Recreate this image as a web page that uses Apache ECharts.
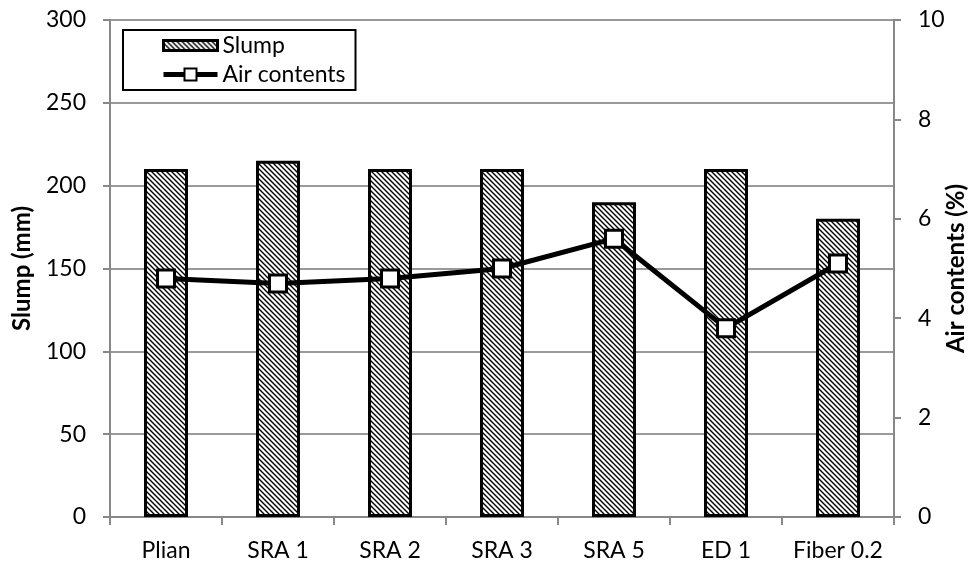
<!DOCTYPE html>
<html>
<head>
<meta charset="utf-8">
<script src="https://cdn.jsdelivr.net/npm/echarts@6/dist/echarts.min.js"></script>
<style>
  html, body { margin: 0; padding: 0; background: #fff; }
  #chart { width: 969px; height: 567px; }
</style>
</head>
<body>
<div id="chart"></div>
<script>
// Mix names and measured properties
const categories = ['Plian', 'SRA 1', 'SRA 2', 'SRA 3', 'SRA 5', 'ED 1', 'Fiber 0.2'];
const slump = [210, 215, 210, 210, 190, 210, 180];          // mm
const airContents = [4.8, 4.7, 4.8, 5.0, 5.6, 3.8, 5.1];    // %

// Diagonal hatch fill for the slump bars
function hatch() {
  const s = 5;
  const c = document.createElement('canvas');
  c.width = s; c.height = s;
  const g = c.getContext('2d');
  g.fillStyle = '#fff';
  g.fillRect(0, 0, s, s);
  g.strokeStyle = '#000';
  g.lineWidth = 1.4;
  g.beginPath();
  g.moveTo(-1, -1); g.lineTo(s + 1, s + 1);
  g.moveTo(-1, s - 1); g.lineTo(1, s + 1);
  g.moveTo(s - 1, -1); g.lineTo(s + 1, 1);
  g.stroke();
  return c;
}
const hatchFill = { image: hatch(), repeat: 'repeat' };

const font = 'Lato, "Open Sans", sans-serif';
const axisGray = '#888';
const chart = echarts.init(document.getElementById('chart'), null, { renderer: 'canvas' });

chart.setOption({
  animation: false,
  backgroundColor: '#fff',
  textStyle: { fontFamily: font },
  grid: { left: 110, right: 75, top: 20, bottom: 50, outerBoundsMode: 'none', containLabel: false },
  legend: {
    orient: 'vertical',
    left: 123, top: 30,
    padding: [4, 10, 4, 38],
    itemGap: 6,
    itemWidth: 54,
    itemHeight: 15,
    borderColor: '#000',
    borderWidth: 2,
    backgroundColor: '#fff',
    textStyle: { fontFamily: font, fontSize: 23, color: '#000' },
    data: [
      {
        name: 'Slump',
        icon: 'path://M0,0h54v10h-54z',
        itemStyle: { color: hatchFill, borderColor: '#000', borderWidth: 3 }
      },
      { name: 'Air contents', lineStyle: { width: 5 } }
    ]
  },
  xAxis: {
    type: 'category',
    data: categories,
    axisLine: { lineStyle: { color: axisGray, width: 2 } },
    axisTick: { show: true, length: 8, lineStyle: { color: axisGray, width: 2 } },
    axisLabel: { color: '#000', fontSize: 23, margin: 22, interval: 0, fontFamily: font }
  },
  yAxis: [
    {
      type: 'value', min: 0, max: 300, interval: 50,
      name: 'Slump (mm)', nameLocation: 'middle', nameGap: 76, nameRotate: 90,
      nameMoveOverlap: false,
      nameTextStyle: { fontSize: 24, fontWeight: 'bold', color: '#000', fontFamily: font },
      axisLine: { show: true, lineStyle: { color: axisGray, width: 2 } },
      axisTick: { show: true, length: 7, lineStyle: { color: axisGray, width: 2 } },
      axisLabel: { color: '#000', fontSize: 23, margin: 24, fontFamily: font },
      splitLine: { lineStyle: { color: '#999', width: 2 } }
    },
    {
      type: 'value', min: 0, max: 10, interval: 2,
      name: 'Air contents (%)', nameLocation: 'middle', nameGap: 50, nameRotate: 90,
      nameMoveOverlap: false,
      nameTextStyle: { fontSize: 24, fontWeight: 'bold', color: '#000', fontFamily: font },
      axisLine: { show: true, lineStyle: { color: axisGray, width: 2 } },
      axisTick: { show: true, length: 7, lineStyle: { color: axisGray, width: 2 } },
      axisLabel: { color: '#000', fontSize: 23, margin: 24, fontFamily: font },
      splitLine: { show: false }
    }
  ],
  series: [
    {
      name: 'Slump', type: 'bar', data: slump, yAxisIndex: 0,
      barWidth: 44,
      itemStyle: { color: hatchFill, borderColor: '#000', borderWidth: 3 }
    },
    {
      name: 'Air contents', type: 'line', data: airContents, yAxisIndex: 1,
      symbol: 'rect', symbolSize: 17,
      lineStyle: { color: '#000', width: 5 },
      itemStyle: { color: '#fff', borderColor: '#000', borderWidth: 3 }
    }
  ]
});
</script>
</body>
</html>
